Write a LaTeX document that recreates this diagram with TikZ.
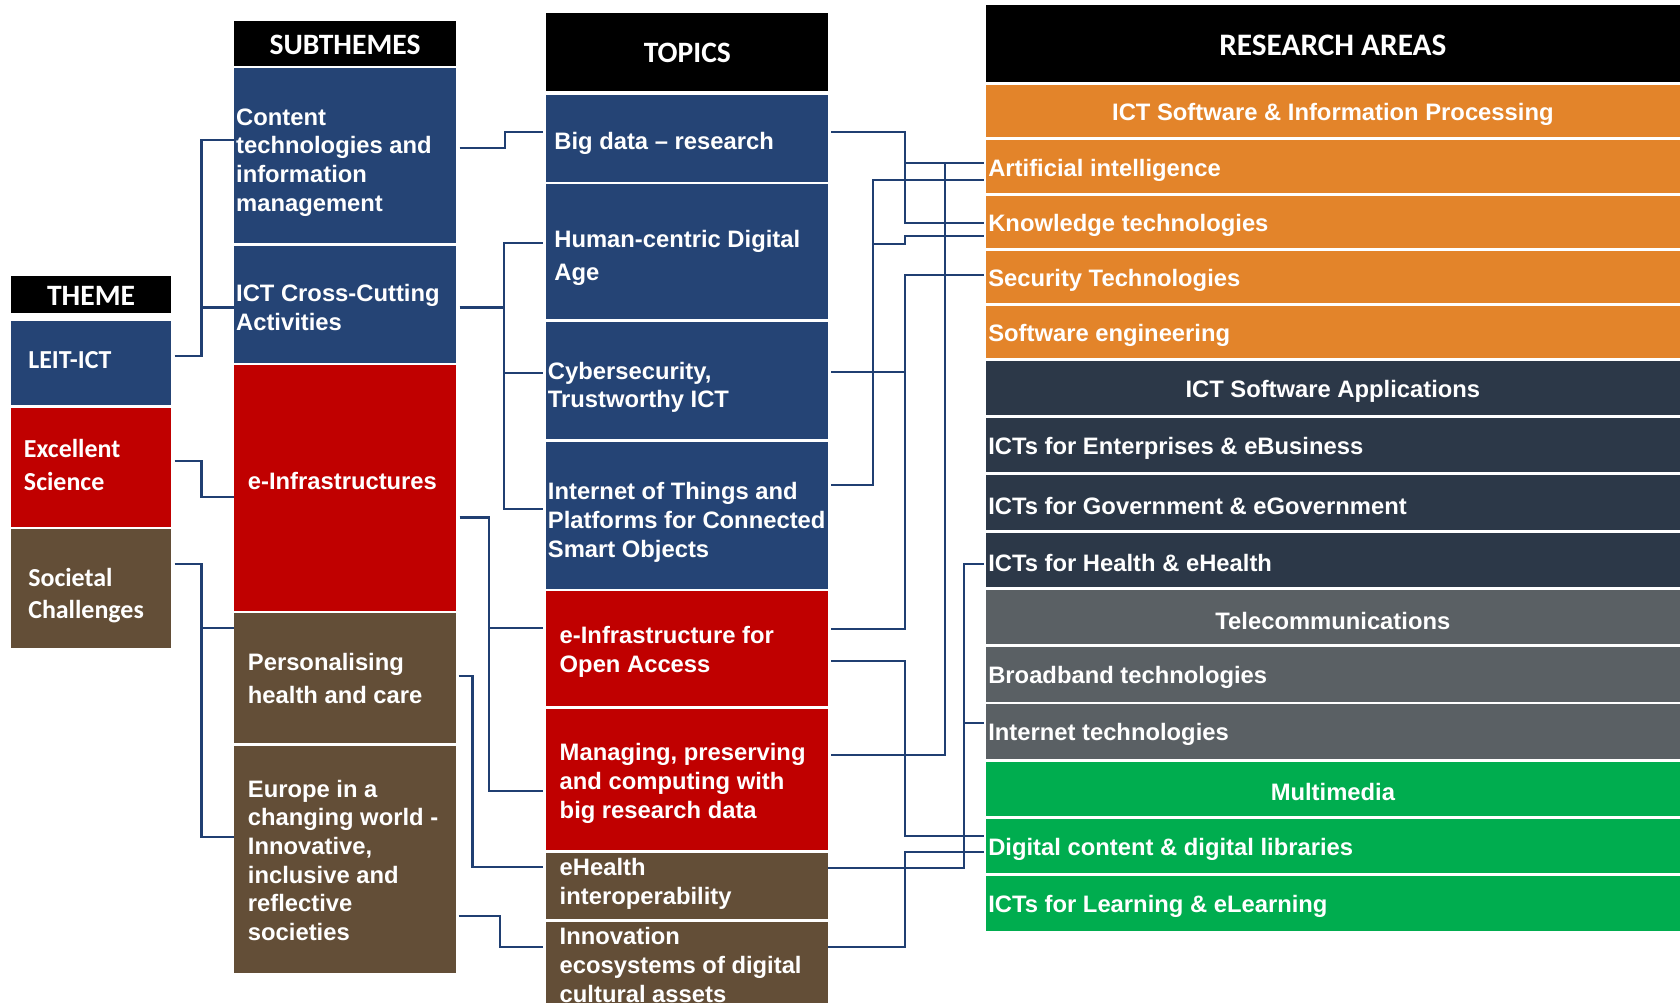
\documentclass[tikz,border=0pt]{standalone}
\usepackage{fontspec}
\newfontfamily\calfont{Carlito}
\newfontfamily\arialfont{Liberation Sans}
\definecolor{navy}{HTML}{254475}
\definecolor{dred}{HTML}{C00000}
\definecolor{tbrown}{HTML}{634E37}
\definecolor{orng}{HTML}{E3842A}
\definecolor{slate}{HTML}{2C3848}
\definecolor{gry}{HTML}{5A6064}
\definecolor{grn}{HTML}{00AD4F}
\definecolor{lnc}{HTML}{203F72}
\tikzset{
  box/.style={inner sep=0pt, outer sep=0pt, anchor=north west, draw=none},
  hdr/.style={text=white, inner sep=0pt, yshift=-0.6pt, font=\calfont\bfseries\fontsize{13.8pt}{16pt}\selectfont},
  thm/.style={text=white, inner sep=0pt, anchor=west, align=left, font=\calfont\bfseries\fontsize{12.1pt}{15pt}\selectfont},
  lbl/.style={text=white, inner sep=0pt, anchor=west, align=left, font=\arialfont\bfseries\fontsize{11.1pt}{13.4pt}\selectfont},
  lblwide/.style={lbl, font=\arialfont\bfseries\fontsize{11.1pt}{15.2pt}\selectfont},
  ra/.style={text=white, inner sep=0pt, yshift=-1.6pt, font=\arialfont\bfseries\fontsize{11.1pt}{13.4pt}\selectfont},
  raw/.style={ra, anchor=west},
  conn/.style={draw=lnc, line width=1pt},
}
\newcommand\mybox[6]{\node[box, fill=#6, minimum width={(#4-#2)*0.5pt}, minimum height={(#5-#3)*0.5pt}] (#1) at (#2,#3) {};}
\begin{document}
\begin{tikzpicture}[x=0.5pt, y=-0.5pt]
\clip (0,0) rectangle (1568,936);
\fill[white] (0,0) rectangle (1568,936);
% ---------- THEME ----------
\mybox{themeh}{10}{258}{160}{292}{black}
\mybox{leit}{10}{300}{160}{378}{navy}
\mybox{exc}{10}{381}{160}{492}{dred}
\mybox{soc}{10}{494}{160}{605}{tbrown}
\node[hdr] (themet) at (themeh.center) {THEME};
\node[thm] (leitt) at (26,336) {LEIT-ICT};
\node[thm] (exct) at (22,434) {Excellent\\Science};
\node[thm] (soct) at (26,556) {Societal\\Challenges};
% ---------- SUBTHEMES ----------
\mybox{subh}{218}{20}{426}{62}{black}
\mybox{content}{218}{63.5}{426}{227}{navy}
\mybox{ictcc}{218}{229.6}{426}{338.8}{navy}
\mybox{einf}{218}{340.7}{426}{570}{dred}
\mybox{pers}{218}{572}{426}{693.5}{tbrown}
\mybox{europe}{218}{696}{426}{908}{tbrown}
\node[hdr] (subt) at (subh.center) {SUBTHEMES};
\node[lbl] (contentt) at (220,151.5) {Content\\technologies and\\information\\management};
\node[lbl] (ictcct) at (220,287) {ICT Cross-Cutting\\Activities};
\node[lbl] (einft) at (231,448.5) {e-Infrastructures};
\node[lblwide] (perst) at (231,633.5) {Personalising\\health and care};
\node[lbl] (europet) at (231,803) {Europe in a\\changing world -\\Innovative,\\inclusive and\\reflective\\societies};
% ---------- TOPICS ----------
\mybox{toph}{510}{12}{773}{85}{black}
\mybox{bigdata}{510}{88.7}{773}{170}{navy}
\mybox{human}{510}{172}{773}{298}{navy}
\mybox{cyber}{510}{300.5}{773}{410}{navy}
\mybox{iot}{510}{412.5}{773}{549.5}{navy}
\mybox{eioa}{510}{552}{773}{659}{dred}
\mybox{manage}{510}{661.5}{773}{793}{dred}
\mybox{ehealth}{510}{796}{773}{857.5}{tbrown}
\mybox{innov}{510}{860.5}{773}{950}{tbrown}
\node[hdr] (topt) at (toph.center) {TOPICS};
\node[lbl] (bigdatat) at (517,134) {Big data – research};
\node[lblwide] (humant) at (517,240.5) {Human-centric Digital\\Age};
\node[lbl] (cybert) at (511,361.5) {Cybersecurity,\\Trustworthy ICT};
\node[lbl] (iott) at (511,487.5) {Internet of Things and\\Platforms for Connected\\Smart Objects};
\node[lbl] (eioat) at (522,608.5) {e-Infrastructure for\\Open Access};
\node[lbl] (managet) at (522,731) {Managing, preserving\\and computing with\\big research data};
\node[lbl] (ehealtht) at (522,825) {eHealth\\interoperability};
\node[lbl] (innovt) at (522,900.5) {Innovation\\ecosystems of digital\\cultural assets};
% ---------- RESEARCH AREAS ----------
\mybox{rah}{920}{5}{1568}{77}{black}
\mybox{rswip}{920}{79.3}{1568}{128}{orng}
\mybox{ai}{920}{131}{1568}{179.8}{orng}
\mybox{know}{920}{182.6}{1568}{231.8}{orng}
\mybox{sec}{920}{234.3}{1568}{283}{orng}
\mybox{sweng}{920}{285.6}{1568}{334.4}{orng}
\mybox{rsapp}{920}{337}{1568}{387.3}{slate}
\mybox{ent}{920}{389.8}{1568}{440.8}{slate}
\mybox{gov}{920}{443.3}{1568}{494.7}{slate}
\mybox{health}{920}{497}{1568}{548}{slate}
\mybox{rtel}{920}{550.7}{1568}{601.4}{gry}
\mybox{broad}{920}{603.6}{1568}{655}{gry}
\mybox{internet}{920}{657}{1568}{708}{gry}
\mybox{rmm}{920}{711}{1568}{761.6}{grn}
\mybox{digital}{920}{764}{1568}{815}{grn}
\mybox{learn}{920}{817.6}{1568}{868.7}{grn}
\node[hdr, font=\calfont\bfseries\fontsize{14.6pt}{17pt}\selectfont] (raht) at (rah.center) {RESEARCH AREAS};
\node[ra] (rswipt) at (rswip.center) {ICT Software \& Information Processing};
\node[raw] (ait) at ([xshift=1pt]ai.west) {Artificial intelligence};
\node[raw] (knowt) at ([xshift=1pt]know.west) {Knowledge technologies};
\node[raw] (sect) at ([xshift=1pt]sec.west) {Security Technologies};
\node[raw] (swengt) at ([xshift=1pt]sweng.west) {Software engineering};
\node[ra] (rsappt) at (rsapp.center) {ICT Software Applications};
\node[raw] (entt) at ([xshift=1pt]ent.west) {ICTs for Enterprises \& eBusiness};
\node[raw] (govt) at ([xshift=1pt]gov.west) {ICTs for Government \& eGovernment};
\node[raw] (healtht) at ([xshift=1pt]health.west) {ICTs for Health \& eHealth};
\node[ra] (rtelt) at (rtel.center) {Telecommunications};
\node[raw] (broadt) at ([xshift=1pt]broad.west) {Broadband technologies};
\node[raw] (internett) at ([xshift=1pt]internet.west) {Internet technologies};
\node[ra] (rmmt) at (rmm.center) {Multimedia};
\node[raw] (digitalt) at ([xshift=1pt]digital.west) {Digital content \& digital libraries};
\node[raw] (learnt) at ([xshift=1pt]learn.west) {ICTs for Learning \& eLearning};
% ---------- connectors: theme -> subthemes ----------
\draw[conn, shorten <=1.5pt] (leit.east |- 0,332) -| (188,131) -- (content.west |- 0,131);
\draw[conn] (188,287) -- (ictcc.west |- 0,287);
\draw[conn, shorten <=1.5pt] (exc.east |- 0,430) -| (188,464) -- (einf.west |- 0,464);
\draw[conn, shorten <=1.5pt] (soc.east |- 0,526) -| (188,781) -- (europe.west |- 0,781);
\draw[conn] (188,586) -- (pers.west |- 0,586);
% ---------- subthemes -> topics ----------
\draw[conn, shorten <=1.5pt, shorten >=1.5pt] (content.east |- 0,138) -| (471,123) -- (bigdata.west |- 0,123);
\draw[conn, shorten <=1.5pt, shorten >=1.5pt] (ictcc.east |- 0,287) -| (470,227) -- (human.west |- 0,227);
\draw[conn, shorten >=1.5pt] (470,287) |- (iot.west |- 0,475);
\draw[conn, shorten >=1.5pt] (470,348) -- (cyber.west |- 0,348);
\draw[conn, shorten <=1.5pt, shorten >=1.5pt] (einf.east |- 0,483) -| (456,738) -- (manage.west |- 0,738);
\draw[conn, shorten >=1.5pt] (456,586) -- (eioa.west |- 0,586);
\draw[conn, shorten <=1pt, shorten >=1.5pt] (pers.east |- 0,631) -| (441,809) -- (ehealth.west |- 0,809);
\draw[conn, shorten <=1pt, shorten >=1.5pt] (europe.east |- 0,855) -| (467,884) -- (innov.west |- 0,884);
% ---------- topics -> research areas ----------
\draw[conn, shorten <=1.5pt, shorten >=1pt] (bigdata.east |- 0,123) -| (845,208) -- (know.west |- 0,208);
\draw[conn, shorten >=1pt] (845,152) -- (ai.west |- 0,152);
\draw[conn, shorten <=1.5pt] (manage.east |- 0,705) -| (882,152);
\draw[conn, shorten <=1.5pt, shorten >=1pt] (iot.east |- 0,453) -| (815,168) -- (ai.west |- 0,168);
\draw[conn, shorten >=1pt] (815,228) -| (845,220) -- (know.west |- 0,220);
\draw[conn, shorten <=1.5pt, shorten >=1pt] (cyber.east |- 0,347) -| (845,257) -- (sec.west |- 0,257);
\draw[conn, shorten <=1.5pt] (eioa.east |- 0,587) -| (845,347);
\draw[conn, shorten <=1.5pt, shorten >=1pt] (eioa.east |- 0,617) -| (845,780) -- (digital.west |- 0,780);
\draw[conn, shorten >=1pt] (ehealth.east |- 0,810) -| (900,526) -- (health.west |- 0,526);
\draw[conn, shorten >=1pt] (900,675) -- (internet.west |- 0,675);
\draw[conn, shorten >=1pt] (innov.east |- 0,884) -| (845,795) -- (digital.west |- 0,795);
\end{tikzpicture}
\end{document}
